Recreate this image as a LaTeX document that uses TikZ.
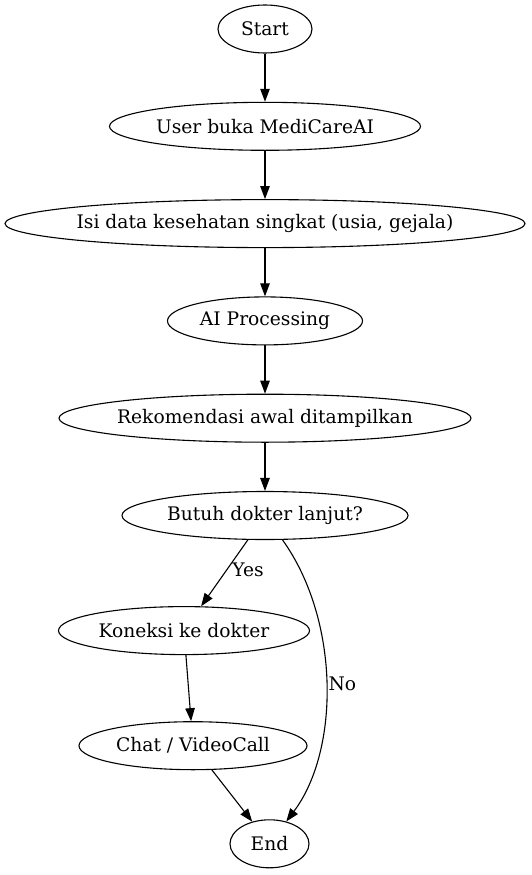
\documentclass[tikz,border=0pt]{standalone}
\usepackage{fontspec}
\setmainfont{DejaVu Serif}
\usepackage{tikz}
\usetikzlibrary{arrows.meta,positioning,shapes.geometric}

\begin{document}
\begin{tikzpicture}[
x=1pt, y=-1pt,
node distance=48.2pt,
term/.style={draw, ellipse, line width=1.1pt, minimum height=48pt, inner xsep=-10pt, font=\fontsize{18.67}{22}\selectfont},
arr/.style={-{Triangle[length=13pt,width=9.5pt]}, line width=1.1pt},
lbl/.style={font=\fontsize{18.67}{22}\selectfont, inner sep=2pt}
]
\path[use as bounding box] (0,0) rectangle (531,875);

\node[term, minimum width=94pt] (start) at (265,29) {Start};
\node[term, minimum width=311pt, below=of start] (buka) {User buka MediCareAI};
\node[term, minimum width=520pt, below=of buka] (isi) {Isi data kesehatan singkat (usia, gejala)};
\node[term, minimum width=195pt, below=of isi] (ai) {AI Processing};
\node[term, minimum width=412pt, below=of ai] (rekom) {Rekomendasi awal ditampilkan};
\node[term, minimum width=286pt, below=of rekom] (butuh) {Butuh dokter lanjut?};
\node[term, minimum width=251pt, below=66pt of butuh, xshift=-81pt] (koneksi) {Koneksi ke dokter};
\node[term, minimum width=228pt, below=66pt of koneksi, xshift=9pt] (chat) {Chat / VideoCall};
\node[term, minimum width=79pt, below=49pt of chat, xshift=76.5pt] (selesai) {End};

\draw[arr] (start) -- (buka);
\draw[arr] (buka) -- (isi);
\draw[arr] (isi) -- (ai);
\draw[arr] (ai) -- (rekom);
\draw[arr] (rekom) -- (butuh);
\draw[arr] (butuh) -- node[lbl, right, pos=0.45, xshift=3pt] {Yes} (koneksi);
\draw[arr] (butuh) .. controls (340,620) and (340,750) .. node[lbl, right] {No} (selesai);
\draw[arr] (koneksi) -- (chat);
\draw[arr] (chat) -- (selesai);
\end{tikzpicture}
\end{document}
